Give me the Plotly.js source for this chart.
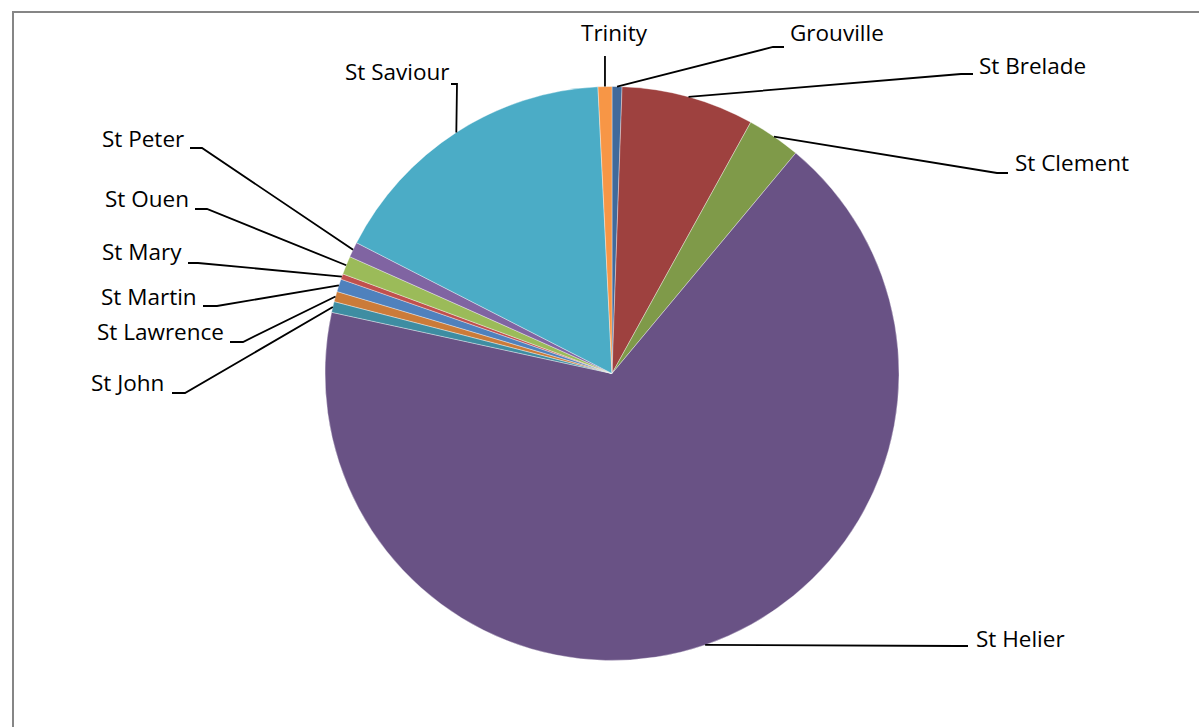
<!DOCTYPE html>
<html>
<head>
<meta charset="utf-8">
<script src="https://cdn.plot.ly/plotly-3.0.1.min.js"></script>
<style>
  html, body { margin: 0; padding: 0; background: #ffffff; }
  #chart { width: 1199px; height: 727px; }
</style>
</head>
<body>
<div id="chart"></div>
<script>
// ---- data (percent share) ----
const parishes = ["Grouville", "St Brelade", "St Clement", "St Helier", "St John", "St Lawrence",
                  "St Martin", "St Mary", "St Ouen", "St Peter", "St Saviour", "Trinity"];
const shares = [0.56, 7.47, 3.03, 67.36, 0.61, 0.58, 0.72, 0.31, 1.03, 0.86, 16.69, 0.78];

// ---- styling / layout ----
const sliceColors = ["#416A9B", "#9E413F", "#7F9A49", "#695285", "#3E8DA2", "#CB7B39",
                     "#4F81BD", "#C0504D", "#9BBB59", "#8064A2", "#4BACC6", "#F79646"];
const W = 1199, H = 727;
const CX = 612, CY = 373.5, R = 287;
// label placement (pixels): anchor x, centre y, anchor side
const labelX    = [788, 977, 1013, 974, 166, 226, 199, 184, 191, 186, 452, 614];
const labelY    = [32, 65, 162, 638, 382, 331, 296, 251, 198, 138, 71, 32];
const labelSide = ["left", "left", "left", "left", "right", "right", "right", "right", "right", "right", "right", "center"];
// leader line elbow and end points (pixels)
const elbowX = [773, 961, 997, 958, 185, 243, 217, 198, 207, 202, 457, null];
const elbowY = [47, 74, 173, 646, 393, 342, 306, 263, 209, 148, 84, null];
const endX   = [784, 973, 1008, 968, 172, 230, 203, 188, 195, 190, 451, null];
const endY   = [47, 74, 173, 646, 393, 342, 306, 263, 209, 148, 84, 56];

const px = x => x / W;
const py = y => 1 - y / H;

const total = shares.reduce((a, b) => a + b, 0);
const shapes = [];
const annotations = [];
let cum = 0;
shares.forEach((v, i) => {
  const mid = (cum + v / 2) / total * 2 * Math.PI; // clockwise from 12 o'clock
  cum += v;
  const sx = CX + R * Math.sin(mid);
  const sy = CY - R * Math.cos(mid);
  let pts;
  if (elbowX[i] === null) {
    pts = [[sx, sy], [sx, endY[i]]];
  } else {
    pts = [[sx, sy], [elbowX[i], elbowY[i]], [endX[i], endY[i]]];
  }
  let path = "M" + pts.map(p => px(p[0]).toFixed(5) + "," + py(p[1]).toFixed(5)).join(" L");
  shapes.push({type: "path", xref: "paper", yref: "paper", path: path,
               line: {color: "#000000", width: 1.8}});
  annotations.push({
    text: parishes[i], xref: "paper", yref: "paper",
    x: px(labelX[i]), y: py(labelY[i]),
    xanchor: labelSide[i], yanchor: "middle", showarrow: false,
    font: {family: "Open Sans, Calibri, sans-serif", size: 22.5, color: "#000000"}
  });
});

// chart frame (gray border, left and top visible)
shapes.push({type: "line", xref: "paper", yref: "paper", x0: px(13), x1: px(13), y0: py(12), y1: py(740),
             line: {color: "#868686", width: 2}});
shapes.push({type: "line", xref: "paper", yref: "paper", x0: px(12), x1: px(1210), y0: py(12), y1: py(12),
             line: {color: "#868686", width: 2}});

const trace = {
  type: "pie",
  labels: parishes,
  values: shares,
  sort: false,
  direction: "clockwise",
  rotation: 0,
  textinfo: "none",
  hoverinfo: "label+percent",
  marker: {colors: sliceColors, line: {color: "rgba(255,255,255,0.45)", width: 0.8}},
  domain: {x: [px(CX - R), px(CX + R)], y: [py(CY + R), py(CY - R)]},
  showlegend: false
};

const layout = {
  width: W, height: H,
  margin: {l: 0, r: 0, t: 0, b: 0},
  paper_bgcolor: "#ffffff",
  plot_bgcolor: "#ffffff",
  showlegend: false,
  shapes: shapes,
  annotations: annotations
};

Plotly.newPlot("chart", [trace], layout, {displayModeBar: false, staticPlot: true});
</script>
</body>
</html>
